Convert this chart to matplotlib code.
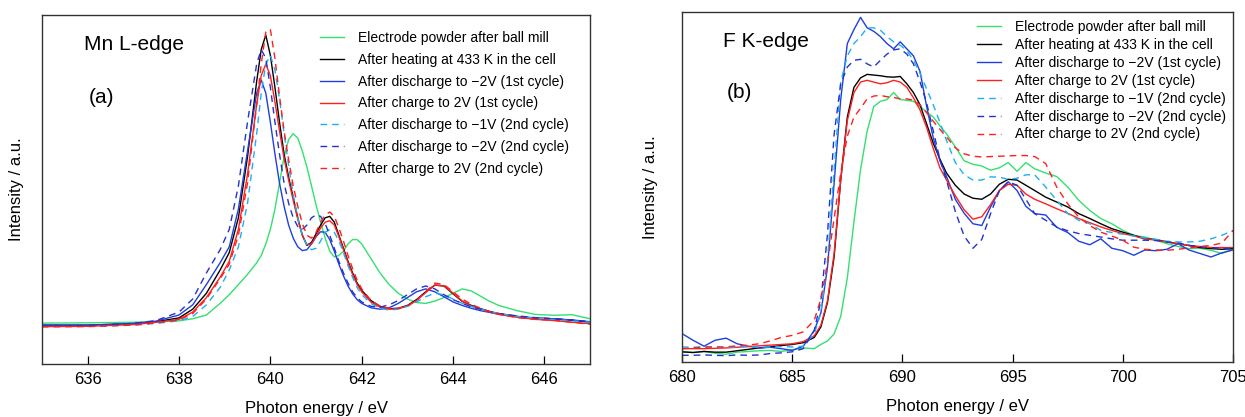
import matplotlib
matplotlib.use("Agg")
import matplotlib.pyplot as plt

plt.rcParams['font.family'] = ['Liberation Sans', 'DejaVu Sans']

labels = [
    "Electrode powder after ball mill",
    "After heating at 433 K in the cell",
    "After discharge to \u22122V (1st cycle)",
    "After charge to 2V (1st cycle)",
    "After discharge to \u22121V (2nd cycle)",
    "After discharge to \u22122V (2nd cycle)",
    "After charge to 2V (2nd cycle)",
]
colors = ["#33e070", "#000000", "#1f3fdc", "#ff1f1f", "#1cb0f0", "#2233cc", "#ff1f1f"]
styles = ["-", "-", "-", "-", "--", "--", "--"]

# ---- Mn L-edge (a) ----
mn_x = [635, 636, 637, 637.5, 638, 638.3, 638.6, 638.9, 639.1, 639.3, 639.5, 639.7, 639.8, 639.9,
        640.0, 640.1, 640.2, 640.3, 640.4, 640.5, 640.6, 640.7, 640.8, 640.9, 641.0, 641.1, 641.2,
        641.3, 641.4, 641.5, 641.6, 641.7, 641.8, 641.9, 642.0, 642.2, 642.4, 642.6, 642.8, 643.0,
        643.2, 643.4, 643.6, 643.8, 644.0, 644.2, 644.4, 644.6, 644.8, 645.0, 645.4, 645.8, 646.2,
        646.6, 647.0]
mn_ballmill = [0.007, 0.008, 0.01, 0.012, 0.015, 0.022, 0.035, 0.075, 0.105, 0.14, 0.175, 0.215, 0.24, 0.28,
               0.33, 0.40, 0.49, 0.58, 0.64, 0.66, 0.645, 0.60, 0.545, 0.48, 0.415, 0.355, 0.30,
               0.255, 0.235, 0.24, 0.255, 0.28, 0.295, 0.295, 0.28, 0.23, 0.18, 0.14, 0.11, 0.09,
               0.078, 0.075, 0.083, 0.095, 0.11, 0.125, 0.118, 0.10, 0.082, 0.068, 0.05, 0.037, 0.034,
               0.036, 0.022]
mn_heat = [0.0, 0.0, 0.005, 0.012, 0.025, 0.055, 0.11, 0.19, 0.25, 0.37, 0.58, 0.84, 0.95, 1.0,
           0.93, 0.82, 0.70, 0.59, 0.51, 0.44, 0.37, 0.31, 0.275, 0.285, 0.315, 0.345, 0.37,
           0.375, 0.355, 0.31, 0.265, 0.22, 0.18, 0.145, 0.12, 0.085, 0.065, 0.057, 0.058, 0.068,
           0.088, 0.115, 0.138, 0.135, 0.108, 0.082, 0.068, 0.057, 0.047, 0.04, 0.03, 0.024, 0.022,
           0.017, 0.01]
mn_dis1 = [0.0, 0.0, 0.006, 0.014, 0.035, 0.07, 0.14, 0.215, 0.27, 0.40, 0.60, 0.80, 0.845, 0.80,
           0.70, 0.59, 0.49, 0.41, 0.345, 0.30, 0.27, 0.257, 0.26, 0.28, 0.305, 0.322, 0.32,
           0.295, 0.255, 0.21, 0.17, 0.135, 0.108, 0.088, 0.075, 0.06, 0.055, 0.06, 0.075, 0.095,
           0.115, 0.125, 0.115, 0.098, 0.08, 0.068, 0.058, 0.05, 0.044, 0.038, 0.03, 0.025, 0.022,
           0.018, 0.012]
mn_chg1 = [-0.005, -0.004, 0.002, 0.01, 0.02, 0.045, 0.095, 0.165, 0.22, 0.33, 0.52, 0.76, 0.86, 0.90,
           0.86, 0.77, 0.67, 0.575, 0.50, 0.43, 0.365, 0.31, 0.278, 0.28, 0.305, 0.335, 0.355,
           0.36, 0.345, 0.305, 0.26, 0.215, 0.175, 0.14, 0.115, 0.08, 0.062, 0.055, 0.057, 0.066,
           0.085, 0.112, 0.138, 0.136, 0.11, 0.083, 0.066, 0.055, 0.045, 0.037, 0.027, 0.02, 0.016,
           0.01, 0.005]
mn_dis1v2 = [-0.003, -0.003, 0.0, 0.006, 0.015, 0.03, 0.07, 0.13, 0.19, 0.27, 0.42, 0.66, 0.80, 0.90,
             0.93, 0.88, 0.78, 0.66, 0.55, 0.45, 0.37, 0.31, 0.275, 0.26, 0.265, 0.29, 0.32,
             0.33, 0.32, 0.29, 0.25, 0.205, 0.165, 0.13, 0.105, 0.075, 0.058, 0.052, 0.055, 0.065,
             0.08, 0.098, 0.11, 0.105, 0.09, 0.075, 0.064, 0.055, 0.047, 0.04, 0.03, 0.024, 0.02,
             0.015, 0.01]
mn_dis2v2 = [-0.002, -0.002, 0.006, 0.016, 0.045, 0.09, 0.18, 0.26, 0.33, 0.48, 0.70, 0.90, 0.95, 0.92,
             0.82, 0.70, 0.59, 0.49, 0.42, 0.37, 0.34, 0.33, 0.345, 0.37, 0.38, 0.375, 0.35,
             0.31, 0.265, 0.22, 0.18, 0.145, 0.115, 0.095, 0.08, 0.065, 0.062, 0.07, 0.085, 0.105,
             0.125, 0.135, 0.125, 0.105, 0.088, 0.075, 0.063, 0.055, 0.047, 0.04, 0.032, 0.026, 0.022,
             0.018, 0.012]
mn_chg2 = [-0.006, -0.005, 0.0, 0.008, 0.018, 0.04, 0.09, 0.16, 0.21, 0.31, 0.49, 0.76, 0.90, 1.01,
           1.02, 0.92, 0.79, 0.67, 0.57, 0.48, 0.41, 0.35, 0.31, 0.30, 0.32, 0.355, 0.38,
           0.39, 0.375, 0.335, 0.29, 0.24, 0.195, 0.155, 0.125, 0.085, 0.065, 0.058, 0.058, 0.066,
           0.085, 0.115, 0.145, 0.14, 0.115, 0.09, 0.072, 0.058, 0.047, 0.038, 0.026, 0.02, 0.017,
           0.01, 0.003]

# ---- F K-edge (b) ----
f_x = [680, 680.5, 681, 681.5, 682, 682.5, 683, 683.5, 684, 684.5, 685, 685.5, 686, 686.3, 686.6,
       686.9, 687.2, 687.5, 687.8, 688.1, 688.4, 688.7, 689, 689.3, 689.6, 689.9, 690.2, 690.5,
       690.8, 691.1, 691.4, 691.7, 692, 692.4, 692.8, 693.2, 693.6, 694, 694.4, 694.8, 695.2,
       695.6, 696, 696.5, 697, 697.5, 698, 698.5, 699, 699.5, 700, 700.5, 701, 701.5, 702,
       702.5, 703, 703.5, 704, 704.5, 705]
f_ballmill = [0.029, 0.027, 0.03, 0.025, 0.022, 0.028, 0.03, 0.032, 0.033, 0.03, 0.035, 0.04, 0.038, 0.05, 0.06,
              0.08, 0.13, 0.24, 0.40, 0.55, 0.66, 0.73, 0.745, 0.75, 0.77, 0.75, 0.748, 0.745,
              0.73, 0.715, 0.70, 0.675, 0.652, 0.615, 0.575, 0.565, 0.56, 0.548, 0.555, 0.57, 0.545,
              0.57, 0.552, 0.54, 0.53, 0.50, 0.462, 0.433, 0.41, 0.395, 0.376, 0.362, 0.357, 0.348, 0.338,
              0.33, 0.324, 0.325, 0.319, 0.31, 0.324]
f_heat = [0.029, 0.027, 0.03, 0.028, 0.028, 0.032, 0.036, 0.04, 0.043, 0.047, 0.05, 0.055, 0.07, 0.10, 0.17,
          0.30, 0.52, 0.70, 0.785, 0.812, 0.822, 0.82, 0.818, 0.815, 0.814, 0.816, 0.795, 0.77,
          0.735, 0.68, 0.625, 0.58, 0.54, 0.505, 0.48, 0.468, 0.465, 0.48, 0.508, 0.522, 0.52,
          0.505, 0.49, 0.471, 0.457, 0.443, 0.424, 0.41, 0.395, 0.381, 0.371, 0.362, 0.352, 0.35, 0.343,
          0.338, 0.333, 0.327, 0.324, 0.322, 0.324]
f_dis1 = [0.081, 0.062, 0.045, 0.062, 0.068, 0.052, 0.045, 0.04, 0.042, 0.038, 0.033, 0.045, 0.09, 0.14, 0.27,
          0.51, 0.75, 0.91, 0.95, 0.985, 0.955, 0.945, 0.93, 0.91, 0.895, 0.915, 0.895, 0.875,
          0.83, 0.73, 0.64, 0.575, 0.53, 0.465, 0.425, 0.395, 0.39, 0.443, 0.49, 0.515, 0.49,
          0.445, 0.424, 0.42, 0.385, 0.37, 0.345, 0.335, 0.352, 0.325, 0.318, 0.305, 0.32, 0.318, 0.322,
          0.338, 0.32, 0.31, 0.30, 0.312, 0.32]
f_chg1 = [0.038, 0.038, 0.038, 0.039, 0.04, 0.042, 0.044, 0.046, 0.048, 0.05, 0.052, 0.058, 0.075, 0.105, 0.175,
          0.31, 0.52, 0.69, 0.77, 0.80, 0.805, 0.80, 0.795, 0.798, 0.805, 0.80, 0.785, 0.755,
          0.72, 0.67, 0.61, 0.555, 0.52, 0.475, 0.435, 0.408, 0.415, 0.45, 0.49, 0.508, 0.505,
          0.48, 0.465, 0.452, 0.438, 0.425, 0.41, 0.398, 0.386, 0.376, 0.367, 0.36, 0.352, 0.348, 0.343,
          0.338, 0.333, 0.33, 0.327, 0.327, 0.327]
f_dis1v2 = [0.043, 0.042, 0.044, 0.043, 0.041, 0.043, 0.044, 0.042, 0.043, 0.044, 0.043, 0.045, 0.08, 0.14, 0.29,
            0.55, 0.80, 0.875, 0.91, 0.93, 0.955, 0.955, 0.948, 0.93, 0.915, 0.905, 0.89, 0.862,
            0.825, 0.78, 0.735, 0.685, 0.633, 0.57, 0.535, 0.52, 0.52, 0.529, 0.528, 0.522, 0.525,
            0.535, 0.535, 0.50, 0.462, 0.424, 0.405, 0.395, 0.376, 0.37, 0.365, 0.36, 0.355, 0.35, 0.345,
            0.343, 0.343, 0.345, 0.352, 0.362, 0.376]
f_dis2v2 = [0.019, 0.019, 0.02, 0.019, 0.018, 0.02, 0.019, 0.02, 0.024, 0.026, 0.029, 0.038, 0.09, 0.175, 0.365,
            0.65, 0.795, 0.843, 0.862, 0.865, 0.852, 0.843, 0.862, 0.88, 0.892, 0.895, 0.88, 0.852,
            0.80, 0.74, 0.66, 0.58, 0.519, 0.43, 0.36, 0.325, 0.35, 0.424, 0.49, 0.515, 0.505,
            0.465, 0.424, 0.405, 0.386, 0.375, 0.367, 0.362, 0.357, 0.352, 0.348, 0.348, 0.348, 0.347, 0.343,
            0.34, 0.333, 0.33, 0.327, 0.325, 0.324]
f_chg2 = [0.038, 0.04, 0.042, 0.043, 0.043, 0.046, 0.048, 0.052, 0.06, 0.07, 0.076, 0.086, 0.119, 0.18, 0.28,
          0.41, 0.54, 0.645, 0.70, 0.725, 0.752, 0.76, 0.762, 0.758, 0.756, 0.752, 0.752, 0.748,
          0.735, 0.712, 0.688, 0.665, 0.643, 0.612, 0.595, 0.588, 0.586, 0.587, 0.588, 0.589, 0.59,
          0.59, 0.587, 0.567, 0.50, 0.452, 0.414, 0.39, 0.371, 0.36, 0.348, 0.328, 0.322, 0.32, 0.319,
          0.322, 0.326, 0.33, 0.333, 0.34, 0.376]

mn_series = [mn_ballmill, mn_heat, mn_dis1, mn_chg1, mn_dis1v2, mn_dis2v2, mn_chg2]
f_series = [f_ballmill, f_heat, f_dis1, f_chg1, f_dis1v2, f_dis2v2, f_chg2]

fig = plt.figure(figsize=(12.45, 4.17), dpi=100)
ax1 = fig.add_axes([0.0337, 0.127, 0.4403, 0.837])
ax2 = fig.add_axes([0.5478, 0.132, 0.4426, 0.839])


def draw(ax, x, series, xlim, ylim, xticks, name, tag, name_pos, tag_pos, leg_anchor, leg_space, ylab_x):
    for ys, c, ls, lab in zip(series, colors, styles, labels):
        ln, = ax.plot(x, ys, color=c, linestyle=ls, linewidth=1.0, label=lab)
        if ls == "--":
            ln.set_dashes((4.8, 3.6))
    ax.set_xlim(*xlim)
    ax.set_ylim(*ylim)
    ax.set_xticks(xticks)
    ax.set_yticks([])
    ax.tick_params(axis='x', direction='in', length=5.5, width=0.9, labelsize=12, pad=6)
    for sp in ax.spines.values():
        sp.set_linewidth(1.0)
        sp.set_color("#333333")
    ax.set_xlabel("Photon energy / eV", fontsize=12, labelpad=10)
    ax.set_ylabel("Intensity / a.u.", fontsize=12)
    ax.yaxis.set_label_coords(ylab_x, 0.5)
    ax.text(name_pos[0], name_pos[1], name, transform=ax.transAxes, fontsize=15, va='center', ha='left')
    ax.text(tag_pos[0], tag_pos[1], tag, transform=ax.transAxes, fontsize=15, va='center', ha='left')
    ax.legend(loc='upper left', bbox_to_anchor=leg_anchor, frameon=False, fontsize=10,
              handlelength=1.75, handletextpad=1.0, labelspacing=leg_space, borderpad=0,
              borderaxespad=0)


draw(ax1, mn_x, mn_series, (635, 647), (-0.134, 1.069), [636, 638, 640, 642, 644, 646],
     "Mn L-edge", "(a)", (0.077, 0.915), (0.086, 0.765), (0.507, 0.954), 0.56, -0.033)
draw(ax2, f_x, f_series, (680, 705), (0.0, 1.0), [680, 685, 690, 695, 700, 705],
     "F K-edge", "(b)", (0.074, 0.917), (0.082, 0.771), (0.535, 0.977), 0.28, -0.044)

fig.savefig("out.png", dpi=100)
